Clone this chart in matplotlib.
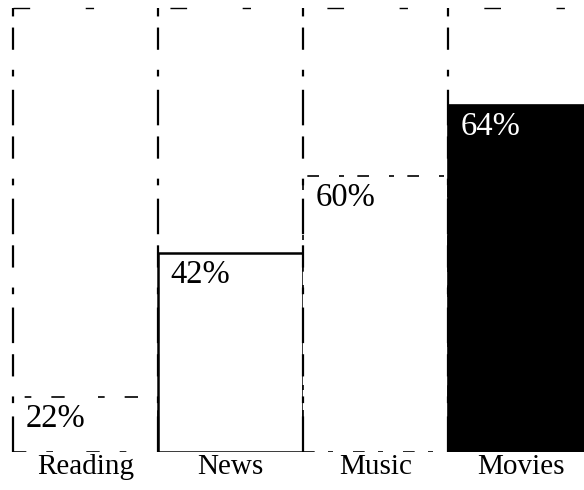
import matplotlib
matplotlib.use("Agg")
import matplotlib.pyplot as plt

# Data
categories = ["Reading", "News", "Music", "Movies"]
percent_labels = [22, 42, 60, 64]          # printed values
bar_heights = [12.4, 44.8, 62.2, 78.2]     # drawn heights (% of frame height)
frame_top = 100

fill_colors = ["white", "white", "white", "black"]
edge_styles = [(0, (8, 12, 4, 20)), "solid", (0, (7, 8, 3, 12)), "solid"]
edge_widths = [1.2, 1.8, 1.2, 1.2]
text_colors = ["black", "black", "black", "white"]

SERIF = ["Liberation Serif", "DejaVu Serif"]

fig = plt.figure(figsize=(5.84, 4.90), dpi=100)
W, H = 584, 490
ax = fig.add_axes([13 / W, 38 / H, 580 / W, 444 / H])

x = list(range(len(categories)))
for i in x:
    ax.bar(i, bar_heights[i], width=1.0, color=fill_colors[i],
           edgecolor="black", linewidth=edge_widths[i],
           linestyle=edge_styles[i], zorder=2)

# broken frame lines of each column (scanned look)
for i in x:
    ax.plot([i - 0.5, i - 0.5], [0, frame_top], color="black", lw=1.6,
            linestyle=(0, (16, 6, 3, 9, 10, 5)), zorder=3, clip_on=False)
ax.plot([-0.5, 3.5], [frame_top, frame_top], color="black", lw=1.0,
        linestyle=(0, (12, 40, 6, 55)), zorder=3, clip_on=False)

for i in x:
    ax.annotate(f"{percent_labels[i]}%", xy=(i - 0.5, bar_heights[i]),
                xytext=(9, -21.5), textcoords="offset points",
                ha="left", va="baseline", fontsize=23.5,
                family=SERIF, color=text_colors[i], zorder=4)

ax.set_xlim(-0.5, 3.5)
ax.set_ylim(0, frame_top)
ax.set_xticks(x)
ax.set_xticklabels(categories, fontsize=21, family=SERIF)
ax.tick_params(axis="x", length=0, pad=1.5)
ax.set_yticks([])
for s in ax.spines.values():
    s.set_visible(False)

fig.savefig("out.png", dpi=100, facecolor="white")
